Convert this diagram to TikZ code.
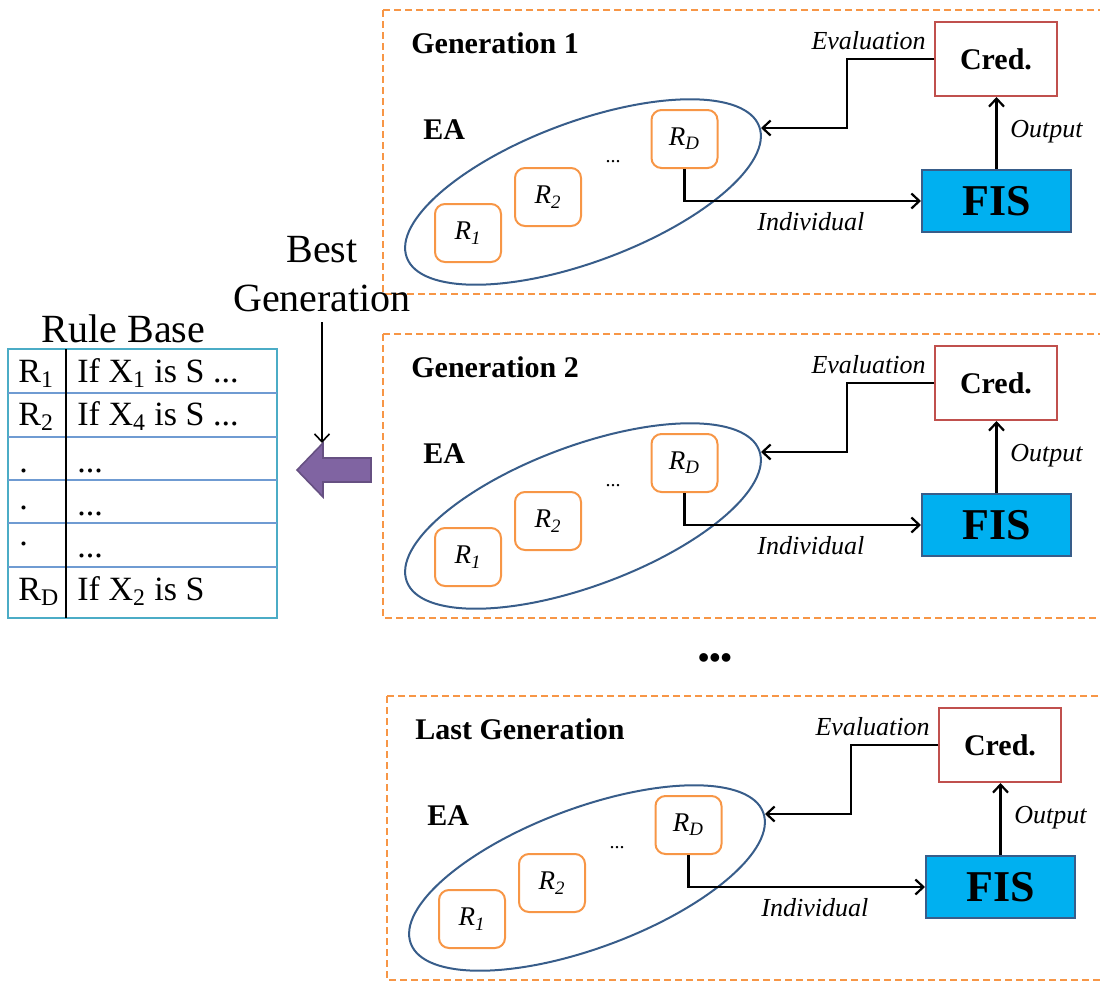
\documentclass[tikz,border=0pt]{standalone}
\usepackage{fontspec}
\setmainfont{Liberation Serif}
\usetikzlibrary{arrows.meta}

\definecolor{genorange}{HTML}{F79646}
\definecolor{eablue}{HTML}{385D8A}
\definecolor{credred}{HTML}{C0504D}
\definecolor{fiscyan}{HTML}{00B0F0}
\definecolor{tableteal}{HTML}{4BACC6}
\definecolor{rowblue}{HTML}{6F9BD2}
\definecolor{bestpurple}{HTML}{8064A2}

\begin{document}
\begin{tikzpicture}[x=0.5pt, y=-0.5pt, >={Straight Barb[length=4pt,width=7.5pt]},
		gendash/.style={draw=genorange, line width=1pt, dash pattern=on 3.5pt off 2pt},
		gentitle/.style={font=\fontsize{15}{18}\selectfont\bfseries, inner sep=0pt, anchor=base west},
		rbox/.style={draw=genorange, line width=1pt, rounded corners=5pt, minimum width=33pt, minimum height=29pt, inner sep=0pt, font=\fontsize{13.5}{16}\selectfont\itshape},
		credbox/.style={draw=credred, line width=1pt, minimum width=61pt, minimum height=37pt, font=\fontsize{15}{18}\selectfont\bfseries},
		fisbox/.style={draw=eablue, fill=fiscyan, line width=1pt, minimum width=74.5pt, minimum height=31pt, font=\fontsize{22}{26}\selectfont\bfseries},
		lbl/.style={font=\fontsize{13}{15}\selectfont\itshape, inner sep=0pt},
		conn/.style={->, line width=1.1pt},
		cell/.style={font=\fontsize{17}{20}\selectfont, inner sep=0pt, anchor=base west}]

		\useasboundingbox (0,0) rectangle (1100,981);
		\clip (0,0) rectangle (1100,981);

		\foreach \dx/\dy/\title/\i in {0/0/Generation 1/1, 0/324/Generation 2/2, 4/686/Last Generation/3}{
			\begin{scope}[shift={(\dx,\dy)}]
				\draw[gendash] (383,10) rectangle (1120,294);
				\node[gentitle] (gen\i) at (411,53) {\title};
				\node[gentitle] (ea\i) at (423,139) {EA};
				\draw[eablue, line width=1pt, shift={(583,192)}, rotate=20.4] (0,0) ellipse [x radius=188, y radius=70];
				\node[rbox] (ra\i) at (468,233) {R\textsubscript{1}};
				\node[rbox] (rb\i) at (548,197) {R\textsubscript{2}};
				\node[rbox] (rd\i) at (684.5,139) {R\textsubscript{D}};
				\node[font=\fontsize{10}{12}\selectfont, inner sep=0pt] (dots\i) at (613,162) {...};
				\node[credbox] (cred\i) at (996,59) {Cred.};
				\node[fisbox] (fis\i) at (996.5,201) {FIS};
				\coordinate (back\i) at (761,128);
				\draw[conn] (fis\i.north) -- (fis\i.north |- cred\i.south);
				\draw[conn] (cred\i.west) -- ++(-87,0) |- (back\i);
				\draw[conn] (rd\i.south) |- (fis\i.west);
				\node[lbl, anchor=base east] (eval\i) at (926,49) {Evaluation};
				\node[lbl, anchor=base west] (out\i) at (1010,137) {Output};
				\node[lbl, anchor=base west] (ind\i) at (757,230) {Individual};
			\end{scope}
		}

		\node[font=\fontsize{16}{18}\selectfont\bfseries, inner sep=0pt] (more) at (715,661) {•••};

		\node[font=\fontsize{20}{24}\selectfont, inner sep=0pt, anchor=base] (rbtitle) at (123.5,342) {Rule Base};
		\node[draw=tableteal, line width=1pt, minimum width=134.5pt, minimum height=134.5pt, inner sep=0pt] (rules) at (142.5,483.5) {};
		\foreach \y in {393,437,480,523,567}
			\draw[rowblue, line width=0.8pt] (8,\y) -- (277,\y);
		\draw[line width=1.1pt] (66,349) -- (66,618);
		\node[cell] (k1) at (18,382) {R\textsubscript{1}};
		\node[cell] (c1) at (77,382) {If X\textsubscript{1} is S ...};
		\node[cell] (k2) at (18,425) {R\textsubscript{2}};
		\node[cell] (c2) at (77,425) {If X\textsubscript{4} is S ...};
		\node[cell] (k3) at (19,472) {.};
		\node[cell] (c3) at (77,472) {...};
		\node[cell] (k4) at (19,509) {.};
		\node[cell] (c4) at (77,515) {...};
		\node[cell] (k5) at (19,545) {.};
		\node[cell] (c5) at (77,557) {...};
		\node[cell] (k6) at (18,600) {R\textsubscript{D}};
		\node[cell] (c6) at (77,600) {If X\textsubscript{2} is S};

		\node[font=\fontsize{20}{24.5}\selectfont, align=center, inner sep=5pt] (best) at (322,274) {Best\\Generation};
		\coordinate (head) at (323,443);
		\draw[fill=bestpurple, draw=bestpurple!80!black, line width=0.8pt] (297,470) -- (head) -- (323,458) -- (371,458) -- (371,482) -- (323,482) -- (323,497) -- cycle;
		\draw[->, line width=0.8pt] (best.south) -- (best.south |- head);
	\end{tikzpicture}
\end{document}
